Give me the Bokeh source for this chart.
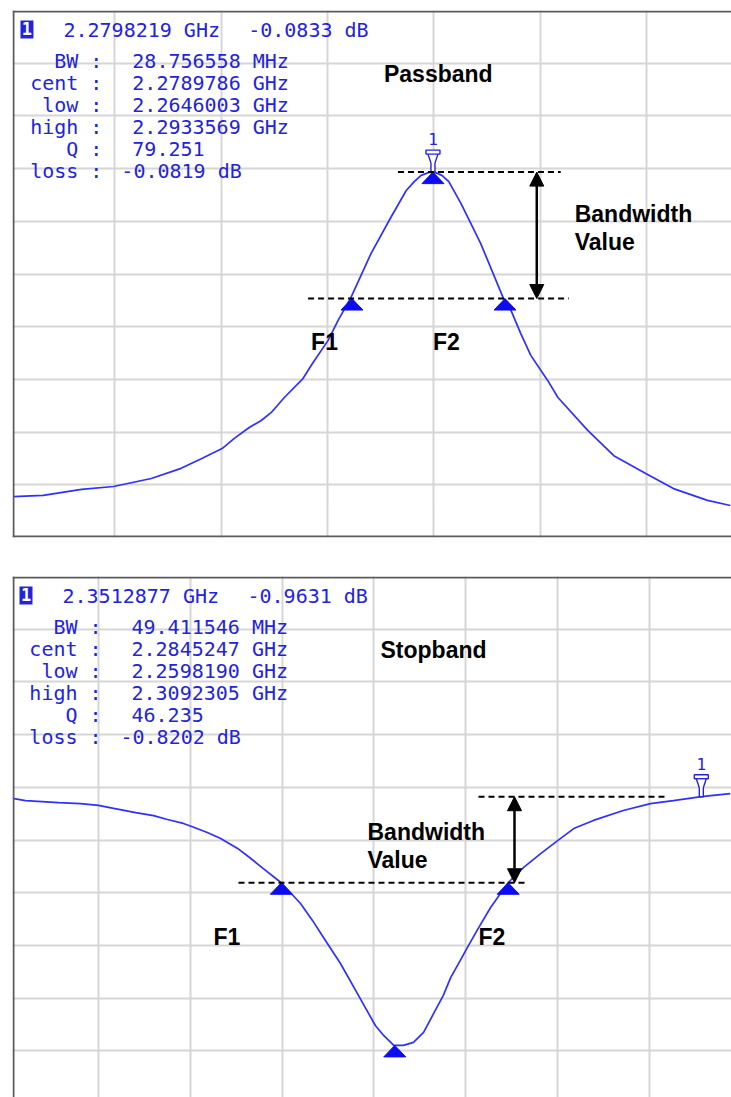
from bokeh.plotting import figure
from bokeh.layouts import column
from bokeh.models import Span, Label, Arrow, NormalHead, Grid, FixedTicker
from bokeh.embed import file_html
from bokeh.resources import INLINE

# ---------------- data ----------------
stat_labels = ["BW", "cent", "low", "high", "Q", "loss"]

# Passband (top panel): frequency in GHz, transmission in dB
passband_freq_ghz = [2.2010, 2.2066, 2.2138, 2.2198, 2.2269, 2.2325, 2.2363, 2.2402,
                     2.2425, 2.2453, 2.2475, 2.2494, 2.2519, 2.2554, 2.2573, 2.2601,
                     2.2620, 2.2644, 2.2682, 2.2719, 2.2748, 2.2763, 2.2776, 2.2791,
                     2.2802, 2.2815, 2.2828, 2.2851, 2.2888, 2.2930, 2.2945, 2.2963,
                     2.2982, 2.3014, 2.3033, 2.3089, 2.3138, 2.3198, 2.3250, 2.3314,
                     2.3357]
passband_db = [-7.78, -7.75, -7.61, -7.54, -7.35, -7.11, -6.88, -6.64,
               -6.40, -6.14, -5.98, -5.79, -5.43, -4.98, -4.60, -4.08,
               -3.60, -3.06, -2.01, -1.16, -0.52, -0.31, -0.16, -0.09,
               -0.09, -0.16, -0.31, -0.83, -1.78, -3.06, -3.37, -3.91,
               -4.43, -5.03, -5.43, -6.21, -6.81, -7.23, -7.59, -7.87,
               -7.99]
passband_marker_freq_ghz = [2.2646003, 2.2798219, 2.2933569]
passband_marker_db = [-3.0819, -0.0833, -3.0819]
passband_m1 = (2.2798219, -0.0833)
passband_header = ["2.2798219 GHz", "-0.0833 dB"]
passband_stat_values = ["28.756558 MHz", "2.2789786 GHz", "2.2646003 GHz",
                        "2.2933569 GHz", "79.251", "-0.0819 dB"]
passband_grid_freq_ghz = [2.22, 2.24, 2.26, 2.28, 2.30, 2.32]
passband_grid_db = [2.5, 1.25, 0.0, -1.25, -2.5, -3.75, -5.0, -6.25, -7.5]

# Stopband (bottom panel)
stopband_freq_ghz = [2.2013, 2.2041, 2.2113, 2.2161, 2.2200, 2.2233, 2.2281, 2.2320,
                     2.2350, 2.2385, 2.2403, 2.2437, 2.2466, 2.2503, 2.2529, 2.2559,
                     2.2598, 2.2640, 2.2666, 2.2690, 2.2727, 2.2764, 2.2803, 2.2821,
                     2.2843, 2.2864, 2.2886, 2.2908, 2.2930, 2.2951, 2.2967, 2.2988,
                     2.3006, 2.3028, 2.3054, 2.3092, 2.3126, 2.3163, 2.3200, 2.3235,
                     2.3278, 2.3343, 2.3402, 2.3452, 2.3513, 2.3576]
stopband_db = [-1.02, -1.09, -1.16, -1.19, -1.25, -1.35, -1.49, -1.59,
               -1.72, -1.85, -1.95, -2.15, -2.35, -2.68, -2.98, -3.35,
               -3.82, -4.51, -5.07, -5.64, -6.50, -7.50, -8.56, -8.89,
               -9.22, -9.22, -9.12, -8.79, -8.16, -7.56, -6.97, -6.40,
               -5.90, -5.31, -4.64, -3.82, -3.31, -2.85, -2.42, -2.02,
               -1.75, -1.42, -1.19, -1.09, -0.96, -0.86]
stopband_marker_freq_ghz = [2.2598190, 2.2845247, 2.3092305]
stopband_marker_db = [-3.8202, -9.22, -3.8202]
stopband_m1 = (2.3512877, -0.9631)
stopband_header = ["2.3512877 GHz", "-0.9631 dB"]
stopband_stat_values = ["49.411546 MHz", "2.2845247 GHz", "2.2598190 GHz",
                        "2.3092305 GHz", "46.235", "-0.8202 dB"]
stopband_grid_freq_ghz = [2.22, 2.24, 2.26, 2.28, 2.30, 2.32, 2.34]
stopband_grid_db = [4.6, 2.85, 1.1, -0.65, -2.4, -4.15, -5.9, -7.65, -9.4]

# ---------------- styling ----------------
ORIGIN = 0
PAGE_W = 731
TXT_DY = -7          # vertical correction for text baselines (px)
BLUE_TXT = "#2323dc"
BLUE_LINE = "#2f2fff"
BLUE_MARK = "#0c0cf0"
GRID_C = "#d6d6d6"
FRAME_C = "#5c5c5c"
MONO = "DejaVu Sans Mono"
SANS = "Liberation Sans"


def make_panel(page_top, height, L, T, B, ref, curve_f, curve_db, mark_f, mark_db,
               m1, header, values, grid_f, grid_db, title, title_pos, bw_pos,
               f_pos, dash_upper, dash_lower, arrow_px, bottom_border):
    R = ORIGIN + PAGE_W
    rpx, rpy, rf, rdb, sx, sy = ref

    def X(px):
        return rf + (px - rpx) * sx

    def Y(py):
        return rdb - (py - rpy) * sy

    p = figure(width=PAGE_W, height=height, x_range=(X(L), X(R)), y_range=(Y(B), Y(T)),
               toolbar_location=None, output_backend="svg",
               x_axis_location=None, y_axis_location=None,
               min_border_left=L - ORIGIN, min_border_right=ORIGIN + PAGE_W - R,
               min_border_top=T - page_top, min_border_bottom=page_top + height - B)
    p.outline_line_color = None
    p.background_fill_color = "white"
    p.border_fill_color = "white"
    p.center = [c for c in p.center if not isinstance(c, Grid)]
    p.add_layout(Grid(dimension=0, ticker=FixedTicker(ticks=grid_f),
                      grid_line_color=GRID_C, grid_line_width=2))
    p.add_layout(Grid(dimension=1, ticker=FixedTicker(ticks=grid_db),
                      grid_line_color=GRID_C, grid_line_width=2))

    # frame borders (left, top, bottom)
    p.add_layout(Span(location=X(L + 1), dimension="height", line_color=FRAME_C, line_width=2))
    p.add_layout(Span(location=Y(T + 1), dimension="width", line_color=FRAME_C, line_width=2))
    if bottom_border:
        p.add_layout(Span(location=Y(B - 1), dimension="width", line_color=FRAME_C, line_width=2))

    # trace
    p.line(curve_f, curve_db, line_color=BLUE_LINE, line_width=1.7)

    # marker triangles (apex on the trace)
    hw, th = 11 * sx, 11.5 * sy
    p.patches([[f - hw, f + hw, f] for f in mark_f],
              [[d - th, d - th, d] for d in mark_db],
              fill_color=BLUE_MARK, line_color=BLUE_MARK, line_width=1)

    # marker 1 funnel symbol
    mf, md = m1
    outline = [(-7, 22), (7, 22), (7, 18), (5, 18), (2, 9), (2, 0), (-2, 0),
               (-2, 9), (-5, 18), (-7, 18)]
    p.patch([mf + a * sx for a, _ in outline], [md + b * sy for _, b in outline],
            fill_color="white", line_color=BLUE_TXT, line_width=1.4)
    p.line([mf - 5 * sx, mf + 5 * sx], [md + 18 * sy, md + 18 * sy],
           line_color=BLUE_TXT, line_width=1.4)
    p.add_layout(Label(x=mf, y=md + (26 - TXT_DY) * sy, text="1", text_font=MONO,
                       text_font_size="16px", text_color=BLUE_TXT,
                       text_align="center", text_baseline="alphabetic"))

    # dashed reference lines and the bandwidth arrow
    up_db, lo_db = dash_upper[2], dash_lower[2]
    for x0, x1, d in (dash_upper, dash_lower):
        p.segment(x0=[X(x0)], y0=[d], x1=[X(x1)], y1=[d], line_color="black",
                  line_width=2, line_dash="6 4")
    head = dict(size=14, fill_color="black", line_color="black")
    p.add_layout(Arrow(start=NormalHead(**head), end=NormalHead(**head),
                       x_start=X(arrow_px), y_start=up_db,
                       x_end=X(arrow_px), y_end=lo_db,
                       line_color="black", line_width=2.5))

    # bold annotation texts
    def bold(txt, px, py):
        p.add_layout(Label(x=X(px), y=Y(py + TXT_DY), text=txt, text_font=SANS,
                           text_font_style="bold", text_font_size="23px",
                           text_color="black", text_align="left",
                           text_baseline="alphabetic"))
    bold(title, *title_pos)
    bold("Bandwidth", bw_pos[0], bw_pos[1])
    bold("Value", bw_pos[0], bw_pos[1] + 28)
    bold("F1", f_pos[0], f_pos[2])
    bold("F2", f_pos[1], f_pos[2])

    # instrument read-out block
    p.quad(left=[X(19)], right=[X(32)], top=[Y(T + 10)], bottom=[Y(T + 28)],
           fill_color=BLUE_TXT, line_color=None)
    p.add_layout(Label(x=X(25.5), y=Y(T + 25 + TXT_DY), text="1", text_font=MONO,
                       text_font_style="bold", text_font_size="17px",
                       text_color="white", text_align="center",
                       text_baseline="alphabetic"))

    def mono(txt, px, py, align="left"):
        p.add_layout(Label(x=X(px), y=Y(py + TXT_DY), text=txt, text_font=MONO,
                           text_font_size="20px", text_color=BLUE_TXT,
                           text_align=align, text_baseline="alphabetic"))
    mono(header[0], 62, T + 26)
    mono(header[1], 247, T + 26)
    bases = [57, 79, 101, 123, 145, 167]
    for lab, val, b in zip(stat_labels, values, bases):
        mono(lab, 77, T + b, "right")
        mono(":", 95, T + b, "center")
        mono(val, 120 if val.startswith("-") else 131, T + b)
    return p


top = make_panel(page_top=ORIGIN, height=552, L=11, T=10, B=537,
                 ref=(433, 168.1, 2.28, 0.0, 0.02 / 106.6, 1.25 / 52.7),
                 curve_f=passband_freq_ghz, curve_db=passband_db,
                 mark_f=passband_marker_freq_ghz, mark_db=passband_marker_db,
                 m1=passband_m1, header=passband_header, values=passband_stat_values,
                 grid_f=passband_grid_freq_ghz, grid_db=passband_grid_db,
                 title="Passband", title_pos=(383, 80), bw_pos=(574, 220),
                 f_pos=(310, 432, 348),
                 dash_upper=(397, 560, passband_marker_db[1]),
                 dash_lower=(307, 568, passband_marker_db[0]),
                 arrow_px=536, bottom_border=True)

bottom = make_panel(page_top=ORIGIN + 552, height=545, L=12, T=576, B=1097,
                    ref=(98, 576, 2.22, 6.35, 0.02 / 91.83, 1.75 / 52.7),
                    curve_f=stopband_freq_ghz, curve_db=stopband_db,
                    mark_f=stopband_marker_freq_ghz, mark_db=stopband_marker_db,
                    m1=stopband_m1, header=stopband_header, values=stopband_stat_values,
                    grid_f=stopband_grid_freq_ghz, grid_db=stopband_grid_db,
                    title="Stopband", title_pos=(380, 656), bw_pos=(367, 838),
                    f_pos=(213, 478, 943),
                    dash_upper=(478, 667, stopband_m1[1]),
                    dash_lower=(238, 525, stopband_marker_db[0]),
                    arrow_px=514, bottom_border=False)

layout = column(top, bottom, spacing=0)
open("out.html", "w").write(file_html(layout, INLINE))
